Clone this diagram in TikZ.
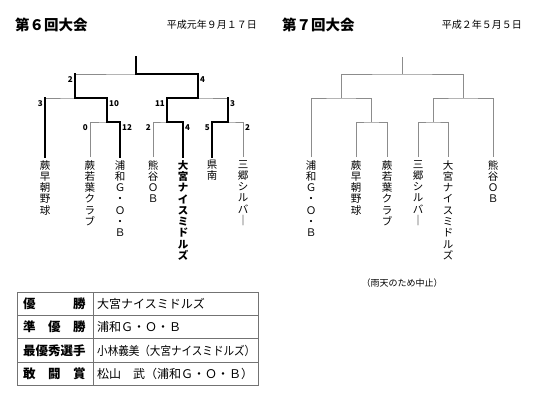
\documentclass[tikz,border=0pt]{standalone}
\usepackage{fontspec}
\setmainfont{Noto Sans CJK JP}
\usetikzlibrary{calc,positioning}
\colorlet{bracketgray}{black!45}
\colorlet{rulegray}{black!55}

\begin{document}
\begin{tikzpicture}[x=1pt,y=-1pt,
    loser/.style={draw=bracketgray, line width=0.9pt},
    winner/.style={draw=black, line width=2.4pt, line join=miter, line cap=rect},
    team/.style={anchor=north, align=center, inner xsep=0pt, inner ysep=3pt,
      font=\fontsize{10.5}{11.3}\selectfont},
    champ/.style={team, font=\fontsize{10.5}{11.3}\selectfont\bfseries},
    lscore/.style={anchor=base east, inner sep=0pt, font=\fontsize{8}{8}\selectfont\bfseries},
    rscore/.style={lscore, anchor=base west},
    title/.style={inner sep=0pt, font=\fontsize{14.5}{15}\selectfont\bfseries},
    date/.style={inner sep=0pt, font=\fontsize{10}{10}\selectfont},
    label/.style={anchor=west, inner sep=0pt, font=\fontsize{12.5}{13}\selectfont\bfseries},
    value/.style={anchor=west, inner sep=0pt, font=\fontsize{12}{13}\selectfont}]
  \useasboundingbox (0,0) rectangle (550,405);

  % ---------------- 6th tournament ----------------
  \node[title, anchor=west] (h6) at (15,24.5) {第６回大会};
  \node[date, anchor=east] (d6) at (257,24.5) {平成元年９月１７日};
  % teams
  \node[team] (w6a) at (45,157) {蕨\\早\\朝\\野\\球};
  \node[team] (w6b) at (90,157) {蕨\\若\\葉\\ク\\ラ\\ブ};
  \node[team] (w6c) at (120,157) {浦\\和\\Ｇ\\・\\Ｏ\\・\\Ｂ};
  \node[team] (w6d) at (153,157) {熊\\谷\\Ｏ\\Ｂ};
  \node[champ] (w6e) at (183,157) {大\\宮\\ナ\\イ\\ス\\ミ\\ド\\ル\\ズ};
  \node[team] (w6f) at (212,157) {県\\南};
  \node[team] (w6g) at (243,157) {三\\郷\\シ\\ル\\バ\\｜};
  % joints
  \coordinate (j61) at (107,122);
  \coordinate (j62) at (167,122);
  \coordinate (j63) at (228,122);
  \coordinate (k61) at (75,98);
  \coordinate (k62) at (198,98);
  \coordinate (f6) at (136,74);
  \coordinate (c6) at (136,57);
  % full bracket
  \draw[loser] (w6b.north) |- (j61) -| (w6c.north);
  \draw[loser] (w6d.north) |- (j62) -| (w6e.north);
  \draw[loser] (w6f.north) |- (j63) -| (w6g.north);
  \draw[loser] (w6a.north) |- (k61) -| (j61);
  \draw[loser] (j62) |- (k62) -| (j63);
  \draw[loser] (k61) |- (f6) -| (k62);
  \draw[loser] (f6) -- (c6);
  % winners' paths
  \draw[winner] (w6c.north) |- (j61) |- (k61) -- (k61 |- f6);
  \draw[winner] (w6a.north) -- (w6a.north |- k61);
  \draw[winner] (w6e.north) |- (j62) |- (k62) |- (f6) -- (c6);
  \draw[winner] (w6f.north) |- (j63) -- (j63 |- k62);
  % scores, first round
  \node[lscore] (n6b) at ($(w6b.north |- j61)+(-2,8)$) {0};
  \node[rscore] (n6c) at ($(w6c.north |- j61)+(2,8)$) {12};
  \node[lscore] (n6d) at ($(w6d.north |- j62)+(-2,8)$) {2};
  \node[rscore] (n6e) at ($(w6e.north |- j62)+(2,8)$) {4};
  \node[lscore] (n6f) at ($(w6f.north |- j63)+(-2,8)$) {5};
  \node[rscore] (n6g) at ($(w6g.north |- j63)+(2,8)$) {2};
  % scores, semi-finals
  \node[lscore] (n6a) at ($(w6a.north |- k61)+(-2,8)$) {3};
  \node[rscore] (n6j1) at ($(j61 |- k61)+(2,8)$) {10};
  \node[lscore] (n6j2) at ($(j62 |- k62)+(-2,8)$) {11};
  \node[rscore] (n6j3) at ($(j63 |- k62)+(2,8)$) {3};
  % scores, final
  \node[lscore] (n6k1) at ($(k61 |- f6)+(-2,8)$) {2};
  \node[rscore] (n6k2) at ($(k62 |- f6)+(2,8)$) {4};

  % ---------------- 7th tournament ----------------
  \node[title, anchor=west] (h7) at (282,24.5) {第７回大会};
  \node[date, anchor=east] (d7) at (522,24.5) {平成２年５月５日};
  % teams
  \node[team] (w7a) at (311,157) {浦\\和\\Ｇ\\・\\Ｏ\\・\\Ｂ};
  \node[team] (w7b) at (356,157) {蕨\\早\\朝\\野\\球};
  \node[team] (w7c) at (387,157) {蕨\\若\\葉\\ク\\ラ\\ブ};
  \node[team] (w7d) at (418,157) {三\\郷\\シ\\ル\\バ\\｜};
  \node[team] (w7e) at (448,157) {大\\宮\\ナ\\イ\\ス\\ミ\\ド\\ル\\ズ};
  \node[team] (w7f) at (493,157) {熊\\谷\\Ｏ\\Ｂ};
  % joints
  \coordinate (j71) at (371,122);
  \coordinate (j72) at (433,122);
  \coordinate (k71) at (341,98);
  \coordinate (k72) at (463,98);
  \coordinate (f7) at (402,74);
  \coordinate (c7) at (402,57);
  % bracket (not played)
  \draw[loser] (w7b.north) |- (j71) -| (w7c.north);
  \draw[loser] (w7d.north) |- (j72) -| (w7e.north);
  \draw[loser] (w7a.north) |- (k71) -| (j71);
  \draw[loser] (j72) |- (k72) -| (w7f.north);
  \draw[loser] (k71) |- (f7) -| (k72);
  \draw[loser] (f7) -- (c7);
  \node[font=\fontsize{9}{9}\selectfont] (rain) at (402,283) {（雨天のため中止）};

  % ---------------- results table ----------------
  \draw[rulegray, line width=0.8pt] (17,292) rectangle (258,385.6);
  \draw[rulegray, line width=0.8pt] (17,315.4) -- (258,315.4);
  \draw[rulegray, line width=0.8pt] (17,338.8) -- (258,338.8);
  \draw[rulegray, line width=0.8pt] (17,362.2) -- (258,362.2);
  \draw[rulegray, line width=0.8pt] (93,292) -- (93,385.6);
  \node[label] (lab1) at (23,303.7) {優　　　勝};
  \node[label] (lab2) at (23,327.1) {準　優　勝};
  \node[label] (lab3) at (23,350.5) {最優秀選手};
  \node[label] (lab4) at (23,373.9) {敢　闘　賞};
  \node[value] (val1) at (97,303.7) {大宮ナイスミドルズ};
  \node[value] (val2) at (97,327.1) {浦和Ｇ・Ｏ・Ｂ};
  \node[value] (val3) at (97,350.5) {\scalebox{0.88}[1]{小林義美（大宮ナイスミドルズ）}};
  \node[value] (val4) at (97,373.9) {松山　武（浦和Ｇ・Ｏ・Ｂ）};
\end{tikzpicture}
\end{document}
